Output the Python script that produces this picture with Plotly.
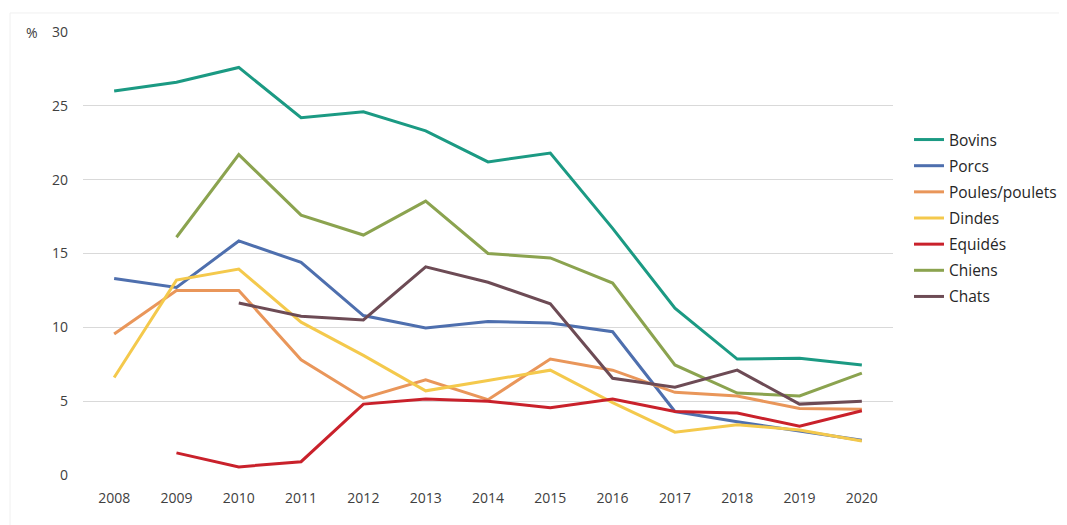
import plotly.graph_objects as go

years = ["2008", "2009", "2010", "2011", "2012", "2013", "2014", "2015",
         "2016", "2017", "2018", "2019", "2020"]

bovins = [26.0, 26.6, 27.6, 24.2, 24.6, 23.3, 21.2, 21.8, 16.7, 11.3, 7.85, 7.9, 7.45]
porcs = [13.3, 12.7, 15.85, 14.4, 10.8, 9.95, 10.4, 10.3, 9.7, 4.3, 3.6, 3.0, 2.35]
poules = [9.55, 12.5, 12.5, 7.8, 5.2, 6.45, 5.1, 7.85, 7.1, 5.6, 5.35, 4.5, 4.45]
dindes = [6.6, 13.2, 13.95, 10.35, 8.1, 5.7, 6.4, 7.1, 4.9, 2.9, 3.4, 3.05, 2.3]
equides = [None, 1.5, 0.55, 0.9, 4.8, 5.15, 5.0, 4.55, 5.15, 4.3, 4.2, 3.3, 4.35]
chiens = [None, 16.1, 21.7, 17.6, 16.25, 18.55, 15.0, 14.7, 13.0, 7.45, 5.55, 5.35, 6.9]
chats = [None, None, 11.65, 10.75, 10.5, 14.1, 13.05, 11.6, 6.55, 5.95, 7.1, 4.8, 5.0]

series = [
    ("Bovins", bovins, "#1b9a83"),
    ("Porcs", porcs, "#4e6fae"),
    ("Poules/poulets", poules, "#e9965a"),
    ("Dindes", dindes, "#f4c94c"),
    ("Equidés", equides, "#c9212b"),
    ("Chiens", chiens, "#8ba34f"),
    ("Chats", chats, "#6d4b55"),
]

fig = go.Figure()
for name, vals, color in series:
    fig.add_trace(go.Scatter(
        x=years, y=vals, name=name, mode="lines",
        line=dict(color=color, width=3),
        legendgroup=name,
    ))

fig.update_layout(
    width=1067, height=525,
    margin=dict(l=75, r=182, t=24, b=58, autoexpand=False),
    paper_bgcolor="white", plot_bgcolor="white",
    font=dict(family="Open Sans, sans-serif", size=14, color="#404040"),
    showlegend=True,
    legend=dict(
        xref="container", yref="container",
        x=0.8444, xanchor="left", y=0.781, yanchor="top",
        font=dict(size=15.5, color="#262626"),
        tracegroupgap=3,
        bgcolor="rgba(0,0,0,0)",
    ),
    xaxis=dict(
        type="category", range=[-0.5, 12.5],
        showgrid=False, zeroline=False, showline=False,
        ticks="", ticklabelstandoff=13,
        tickfont=dict(size=14, color="#404040"),
    ),
    yaxis=dict(
        range=[0, 30], tickvals=[0, 5, 10, 15, 20, 25, 30],
        showgrid=True, gridcolor="#d9d9d9", gridwidth=1,
        zeroline=False, showline=False, ticks="",
        ticklabelstandoff=14,
        tickfont=dict(size=14, color="#404040"),
    ),
    annotations=[dict(
        text="%", xref="paper", yref="y", x=-0.063, y=30,
        xanchor="center", yanchor="middle", showarrow=False,
        font=dict(size=14, color="#404040"),
    )],
    shapes=[
        dict(type="line", xref="paper", yref="paper", x0=-0.0901, x1=1.215,
             y0=1.0429, y1=1.0429, line=dict(color="#f0f0f0", width=1)),
        dict(type="line", xref="paper", yref="paper", x0=-0.0901, x1=-0.0901,
             y0=-0.13, y1=1.0429, line=dict(color="#f0f0f0", width=1)),
    ],
)

fig.write_html("out.html")
